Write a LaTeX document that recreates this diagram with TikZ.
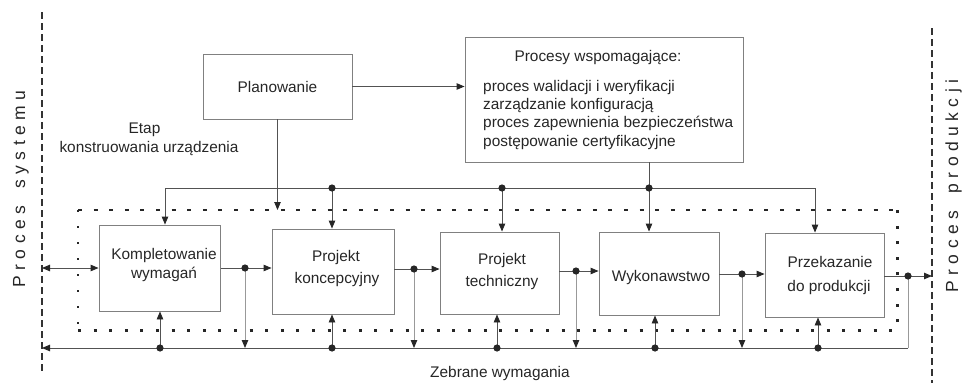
\documentclass[tikz,border=0pt]{standalone}
\usepackage{fontspec}
\setmainfont{Liberation Sans}
\usetikzlibrary{arrows.meta}

% letter-spaced word for the side captions
\makeatletter
\newcommand\spacedword[1]{\@tfor\sw@ch:=#1\do{\sw@ch\kern5.5pt}\unkern}
\makeatother

\tikzset{
  box/.style={draw=black!50, line width=0.9pt, inner sep=0pt, text=black!85},
  txt/.style={text=black!85, inner sep=0pt},
  sidetxt/.style={text=black!85, inner sep=0pt, rotate=90, anchor=base,
    font=\fontsize{17.5}{20}\selectfont},
  wire/.style={draw=black!68, line width=0.9pt},
  palewire/.style={draw=black!40, line width=0.9pt},
  tip/.style={-{Triangle[length=8pt,width=6.5pt,color=black!85]}},
  twotip/.style={{Triangle[length=8pt,width=6.5pt,color=black!85]}-{Triangle[length=8pt,width=6.5pt,color=black!85]}},
  limitline/.style={draw=black!80, line width=1.2pt, dash pattern=on 7pt off 4pt},
  jdot/.style={fill=black!85},
  topdots/.style={draw=black!85, line width=2pt, dash pattern=on 4pt off 11.6pt},
  leftdots/.style={draw=black!85, line width=2pt, dash pattern=on 2pt off 14pt},
  heavydots/.style={draw=black!85, line width=3pt, dash pattern=on 3pt off 12.6pt},
}

\begin{document}
\begin{tikzpicture}[x=1pt, y=-1pt, font=\fontsize{15.4}{18}\selectfont]
\useasboundingbox (0,0) rectangle (962,383);

% system / production boundaries
\coordinate (sysTop) at (42,12);
\coordinate (sysBot) at (42,372);
\coordinate (prodTop) at (932,28);
\coordinate (prodBot) at (932,383);
\draw[limitline] (sysTop) -- (sysBot);
\draw[limitline] (prodTop) -- (prodBot);
\node[sidetxt] (sysLabel) at (25,189)
  {\spacedword{Proces}\hspace{17pt}\spacedword{systemu}};
\node[sidetxt] (prodLabel) at (958,186)
  {\spacedword{Proces}\hspace{17pt}\spacedword{produkcji}};

% upper boxes
\node[box, minimum width=149pt, minimum height=65pt] (plan) at (277.5,86.5) {Planowanie};
\node[box, minimum width=278pt, minimum height=125pt] (proc) at (604,99.5) {};
\node[txt, anchor=base] (procTitle) at (598,61) {Procesy wspomagające:};
\node[txt, anchor=base west] (procA) at (483,91) {proces walidacji i weryfikacji};
\node[txt, anchor=base west] (procB) at (483,109) {zarządzanie konfiguracją};
\node[txt, anchor=base west] (procC) at (483,127.5) {proces zapewnienia bezpieczeństwa};
\node[txt, anchor=base west] (procD) at (483,146) {postępowanie certyfikacyjne};

\node[txt, anchor=base] (etapA) at (144.5,133) {Etap};
\node[txt, anchor=base] (etapB) at (149,152) {konstruowania urządzenia};

% stage boxes
\node[box, minimum width=121.5pt, minimum height=86pt] (k) at (159.75,268) {};
\node[box, minimum width=122pt, minimum height=85pt] (pk) at (333,271.5) {};
\node[box, minimum width=119pt, minimum height=82pt] (pt) at (499.5,273) {};
\node[box, minimum width=120pt, minimum height=83pt] (w) at (659,273.5) {};
\node[box, minimum width=119pt, minimum height=84pt] (pp) at (824.5,275) {};

\node[txt, anchor=base] (kA) at (164,259) {Kompletowanie};
\node[txt, anchor=base] (kB) at (164,278) {wymagań};
\node[txt, anchor=base] (pkA) at (336,261) {Projekt};
\node[txt, anchor=base] (pkB) at (337,283) {koncepcyjny};
\node[txt, anchor=base] (ptA) at (502,264) {Projekt};
\node[txt, anchor=base] (ptB) at (502,286) {techniczny};
\node[txt, anchor=base] (wA) at (661,281) {Wykonawstwo};
\node[txt, anchor=base] (ppA) at (830,267) {Przekazanie};
\node[txt, anchor=base] (ppB) at (829,291) {do produkcji};

\node[txt, anchor=base] (collected) at (500,377) {Zebrane wymagania};

% dotted frame of the design stage
\coordinate (fTL) at (78,210);
\coordinate (fBR) at (897,330);
\draw[topdots] (fTL) -- (fTL -| fBR);
\draw[leftdots] (fTL) -- (fTL |- fBR);
\draw[heavydots] (fTL |- fBR) -- (fBR) -- (fTL -| fBR);

% planning and support processes
\draw[wire, tip] (plan.east) -- (plan.east -| proc.west);
\draw[wire, tip] (plan.south) -- (plan.south |- fTL);

% upper distribution bus
\coordinate (busL) at (165,188);
\coordinate (busR) at (815,188);
\coordinate (j1) at (332,188);
\coordinate (j2) at (502,188);
\coordinate (j3) at (649,188);
\draw[wire] (busL) -- (busR);
\draw[wire, tip] (busL) -- (busL |- k.north);
\draw[wire, tip] (busR) -- (busR |- pp.north);
\draw[wire, tip] (j1) -- (j1 |- pk.north);
\draw[wire, tip] (j2) -- (j2 |- pt.north);
\draw[wire, tip] (proc.south -| j3) -- (j3 |- w.north);
\foreach \j in {j1,j2,j3} \fill[jdot] (\j) circle[radius=3.6pt];

% main flow between stages
\coordinate (bot) at (44,348);
\coordinate (f1) at (245,268);
\coordinate (f2) at (414,269);
\coordinate (f3) at (576,271);
\coordinate (f4) at (742,274);
\coordinate (f5) at (908,276);
\draw[wire, twotip] (k.west -| sysTop) -- (k.west);
\draw[wire] (k.east) -- (f1);
\draw[wire, tip] (f1) -- (f1 -| pk.west);
\draw[wire] (pk.east |- f2) -- (f2);
\draw[wire, tip] (f2) -- (f2 -| pt.west);
\draw[wire] (pt.east |- f3) -- (f3);
\draw[wire, tip] (f3) -- (f3 -| w.west);
\draw[wire] (w.east |- f4) -- (f4);
\draw[wire, tip] (f4) -- (f4 -| pp.west);
\draw[wire] (pp.east |- f5) -- (f5);
\draw[wire, tip] (f5) -- (f5 -| prodTop);

% feedback of collected requirements
\draw[palewire] (f5) -- (f5 |- bot);
\draw[wire, tip] (f5 |- bot) -- (sysTop |- bot);
\foreach \f in {f1,f2,f3,f4} \draw[palewire, tip] (\f) -- (\f |- bot);

\coordinate (b1) at (160,348);
\coordinate (b2) at (332,348);
\coordinate (b3) at (497,348);
\coordinate (b4) at (655,348);
\coordinate (b5) at (818,348);
\draw[wire, tip] (b1) -- (b1 |- k.south);
\draw[wire, tip] (b2) -- (b2 |- pk.south);
\draw[wire, tip] (b3) -- (b3 |- pt.south);
\draw[wire, tip] (b4) -- (b4 |- w.south);
\draw[wire, tip] (b5) -- (b5 |- pp.south);

\foreach \d in {f1,f2,f3,f4,f5,b1,b2,b3,b4,b5} \fill[jdot] (\d) circle[radius=3.6pt];
\end{tikzpicture}
\end{document}
